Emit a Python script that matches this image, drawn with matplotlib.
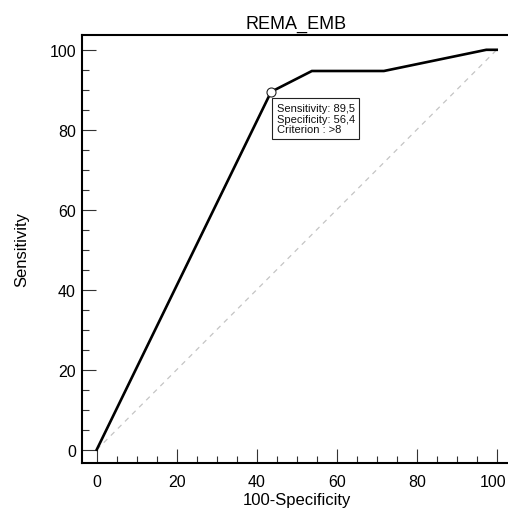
import matplotlib
matplotlib.use("Agg")
import matplotlib.pyplot as plt
import matplotlib.transforms as mtransforms
from matplotlib.ticker import MultipleLocator

plt.rcParams['font.family'] = ['Liberation Sans', 'DejaVu Sans']

# ROC curve data (100-Specificity, Sensitivity)
fpr = [0.0, 43.6, 53.8, 71.8, 97.4, 100.0]
tpr = [0.0, 89.5, 94.7, 94.7, 100.0, 100.0]
diag_x = [0, 100]
diag_y = [0, 100]
opt_point = (43.6, 89.5)
opt_text = ["Sensitivity: 89,5", "Specificity: 56,4", "Criterion : >8"]
title = "REMA_EMB"
xlabel = "100-Specificity"
ylabel = "Sensitivity"
major_ticks = [0, 20, 40, 60, 80, 100]

W, H = 508, 510
fig = plt.figure(figsize=(W / 100, H / 100), dpi=100)
left, right, top, bottom = 81.5, 511.5, 36.0, 463.5
ax = fig.add_axes([left / W, (H - bottom) / H, (right - left) / W, (bottom - top) / H])
ax.set_xlim(-3.8, 103.7)
ax.set_ylim(-3.2, 103.7)

ax.plot(diag_x, diag_y, color='#c4c4c4', lw=0.9, ls=(0, (4, 4)), zorder=1)
ax.plot(fpr, tpr, color='black', lw=1.9, solid_joinstyle='miter', zorder=2)
ax.plot([opt_point[0]], [opt_point[1]], marker='o', ms=6.5, mfc='white', mec='#222222', mew=0.8, zorder=3)

ax.annotate("\n".join(opt_text), xy=opt_point, xytext=(4.1, -8.0), textcoords='offset points',
            ha='left', va='top', fontsize=8, linespacing=1.1, color='#111111',
            bbox=dict(boxstyle='square,pad=0.4', fc='white', ec='#222222', lw=0.8), zorder=4)

ax.xaxis.set_major_locator(plt.FixedLocator(major_ticks))
ax.yaxis.set_major_locator(plt.FixedLocator(major_ticks))
ax.xaxis.set_minor_locator(MultipleLocator(5))
ax.yaxis.set_minor_locator(MultipleLocator(5))
ax.tick_params(which='both', direction='in', top=False, right=False, color='#333333', width=0.8)
ax.tick_params(which='major', length=10, labelsize=11.5)
ax.tick_params(which='minor', length=5)
ax.tick_params(axis='x', which='major', pad=8)
ax.tick_params(axis='y', which='major', pad=4)

for s in ax.spines.values():
    s.set_linewidth(1.5)

ax.set_title(title, fontsize=13, pad=5.5)
ax.set_xlabel(xlabel, fontsize=12, labelpad=2.5)
ax.set_ylabel(ylabel, fontsize=12, labelpad=14.3)

# keep the last x tick label inside the figure edge
fig.canvas.draw()
last = ax.get_xticklabels()[-1]
last.set_transform(last.get_transform() + mtransforms.ScaledTranslation(-4 / 100, 0, fig.dpi_scale_trans))

fig.savefig("out.png", dpi=100)
